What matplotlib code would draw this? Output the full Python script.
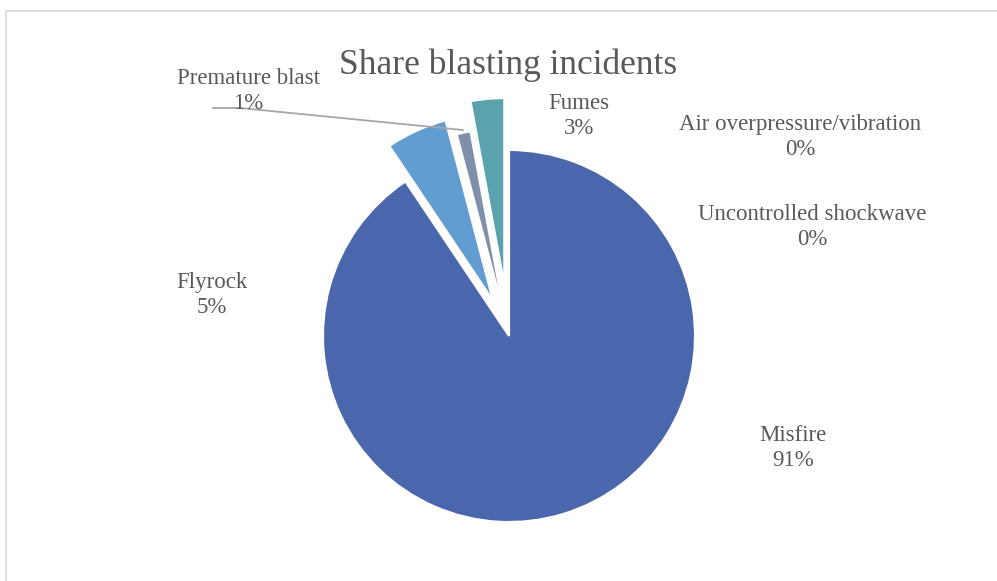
import matplotlib.pyplot as plt
from matplotlib.lines import Line2D

categories = ['Misfire', 'Flyrock', 'Premature blast', 'Fumes',
              'Air overpressure/vibration', 'Uncontrolled shockwave']
shares = [90.6, 5.3, 1.2, 2.9, 0.0, 0.0]
pct_labels = ['91%', '5%', '1%', '3%', '0%', '0%']
explode = [0.0, 0.21, 0.12, 0.28, 0.0, 0.0]
colors = ['#4A66AC', '#629DD1', '#7F8FA9', '#5AA2AE', '#4AB5C4', '#297FD5']

# label anchor positions (pixels, from top-left)
label_pos = [(793, 448), (212, 295), (248, 91), (579, 116), (800, 137), (812, 227)]

plt.rcParams['font.family'] = ['Liberation Serif', 'DejaVu Serif']
txt_color = '#595959'

fig = plt.figure(figsize=(9.97, 5.81), dpi=100)
ax = fig.add_axes([0, 0, 1, 1])

cx, cy, r = 509, 581 - 336, 186
# explode is in data units here, so scale by radius
ax.pie(shares, explode=[e * r for e in explode], colors=colors, startangle=90,
       counterclock=False, center=(cx, cy), radius=r,
       wedgeprops=dict(linewidth=1.5, edgecolor='white'))

ax.set_xlim(0, 997)
ax.set_ylim(0, 581)
ax.set_aspect('equal')
ax.axis('off')

for name, pct, (x, y) in zip(categories, pct_labels, label_pos):
    ax.text(x, 581 - y, name + '\n' + pct, ha='center', va='center',
            fontsize=16.5, color=txt_color, linespacing=1.2)

# leader line for Premature blast
ax.add_line(Line2D([213, 240, 463], [581 - 108, 581 - 108, 581 - 130],
                   color='#A6A6A6', linewidth=1.3))

ax.text(508, 581 - 65, 'Share blasting incidents', ha='center', va='center',
        fontsize=25.5, color=txt_color)

# chart area border
ax.add_line(Line2D([5.5, 5.5, 997], [0, 581 - 10.5, 581 - 10.5],
                   color='#D9D9D9', linewidth=1.2))

fig.savefig('out.png', dpi=100)
